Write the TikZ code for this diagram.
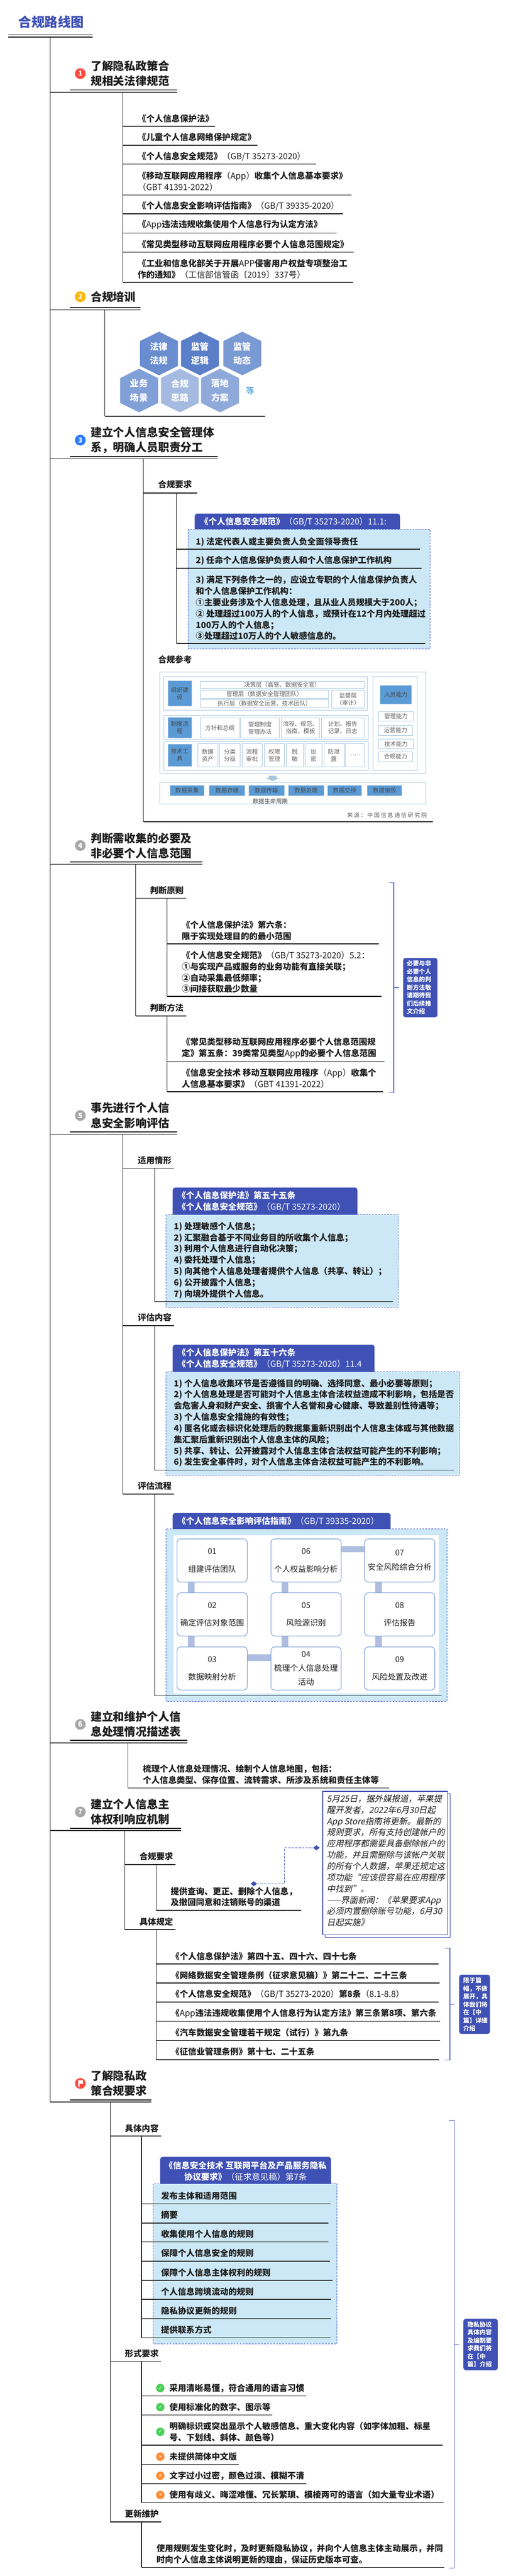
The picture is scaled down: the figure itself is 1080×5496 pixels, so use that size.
\documentclass[tikz,border=0pt]{standalone}
\usepackage{fontspec}
\setmainfont{Noto Sans CJK SC}
\newfontfamily\slantfont[FakeSlant=0.2]{Noto Sans CJK SC}
\newfontfamily\spacedfont[LetterSpace=20]{Noto Sans CJK SC}
\newfontfamily\symbolfont{DejaVu Sans}
\usetikzlibrary{shapes.geometric}

\definecolor{ink}{HTML}{1E1E1E}
\definecolor{indigo}{HTML}{3F51B5}
\definecolor{paleblue}{HTML}{CCE7F6}
\definecolor{dashblue}{HTML}{5567D0}
\definecolor{cellblue}{HTML}{7A9BD8}
\definecolor{barblue}{HTML}{AEBEE0}
\definecolor{imgblue}{HTML}{5B9BD5}
\definecolor{imgline}{HTML}{A9C6DF}
\definecolor{badgered}{HTML}{FF4B3E}
\definecolor{badgeamber}{HTML}{FFB300}
\definecolor{badgeblue}{HTML}{2979FF}
\definecolor{badgegray}{HTML}{A8A8A8}
\definecolor{okgreen}{HTML}{4CD058}
\definecolor{warnorange}{HTML}{FF8B33}
\definecolor{etcblue}{HTML}{1E88D0}
\definecolor{hexone}{HTML}{6A8DD0}
\definecolor{hextwo}{HTML}{5A7FC8}
\definecolor{hexthree}{HTML}{7A9AD4}
\definecolor{hexfour}{HTML}{82A0D8}
\definecolor{hexfive}{HTML}{A4BAE0}
\definecolor{hexsix}{HTML}{90A9DB}

\newcommand{\la}[1]{{\mdseries #1}}
\newcommand{\rowline}[4]{\coordinate (#1a) at (#2,#3); \coordinate (#1b) at (#4,#3); \draw[rowrule] (#1a) -- (#1b);}
\newcommand{\stemline}[4]{\coordinate (#1a) at (#2,#3); \coordinate (#1b) at (#2,#4); \draw[stemrule] (#1a) -- (#1b);}
\newcommand{\sidebrace}[7]{\coordinate (#1a) at (#2,#4); \coordinate (#1b) at (#2,#5); \coordinate (#1m) at (#3,#6); \coordinate (#1t) at (#7,#6); \draw[brace] (#1a) -| (#1m) |- (#1b); \draw[brace] (#1m) -- (#1t);}
\newcommand{\hexcell}[6]{\begin{scope}[shift={(#2,#3)}]
    \fill[fill=#4] (0,0) -- (40.5,20) -- (40.5,73) -- (0,93) -- (-40.5,73) -- (-40.5,20) -- cycle;
    \node[hextext] (#1) at (0,46.5) {#5\\#6};
\end{scope}}

\tikzset{
    rowrule/.style={draw=ink, line width=1.8pt},
    stemrule/.style={draw=ink, line width=1.4pt},
    brace/.style={draw=dashblue, line width=1.4pt},
    title/.style={anchor=west, inner sep=0pt, text=indigo, font=\fontsize{28}{34}\selectfont\bfseries},
    heading/.style={anchor=west, inner sep=0pt, text=ink, align=left, font=\fontsize{24}{32}\selectfont\bfseries},
    topic/.style={anchor=west, inner sep=0pt, text=ink, align=left, font=\fontsize{18}{24}\selectfont\bfseries},
    headtext/.style={topic, text=white},
    tiptext/.style={anchor=west, inner sep=0pt, text=white, align=left, font=\fontsize{13}{17}\selectfont\bfseries},
    badge/.style={circle, minimum size=23pt, inner sep=0pt, text=white, font=\fontsize{15}{15}\selectfont\bfseries},
    markdot/.style={circle, minimum size=18pt, inner sep=0pt, text=white, font=\fontsize{10}{10}\selectfont\symbolfont},
    hextext/.style={align=center, inner sep=0pt, text=white, font=\fontsize{19}{30}\selectfont\bfseries},
    notebox/.style={fill=paleblue, draw=dashblue, line width=1.2pt, dash pattern=on 4pt off 2.5pt},
    stepcell/.style={draw=cellblue, fill=white, line width=1.2pt, rounded corners=8pt, minimum width=150pt, minimum height=92pt, align=center, inner sep=0pt, text=ink, font=\fontsize{17}{24}\selectfont},
    stepbar/.style={draw=barblue, line width=14pt},
    imgbox/.style={draw=imgline, fill=white, line width=0.9pt},
    imgfill/.style={draw=imgline, fill=imgblue, line width=0.9pt},
    imgtext/.style={align=center, inner sep=0pt, text=black!62, font=\fontsize{12.5}{15.4}\selectfont},
    imgdark/.style={imgtext, text=black!72},
    slantnote/.style={anchor=north west, inner sep=0pt, align=left, text=ink, font=\fontsize{18}{24}\selectfont\slantfont},
    joint/.style={diamond, fill=indigo, minimum width=14pt, minimum height=11pt, inner sep=0pt, aspect=1.2},
    linkline/.style={draw=indigo, line width=1.8pt, dash pattern=on 5pt off 2.5pt},
}

\begin{document}
\begin{tikzpicture}[x=1pt, y=-1pt]
    \fill[white] (0,0) rectangle (1080,5496);
    \useasboundingbox (0,0) rectangle (1080,5496);

    \node[title] (main) at (39,47.5) {合规路线图};
    \rowline{maina}{18}{74}{198}
    \rowline{mainb}{18}{79}{198}
    \stemline{trunk}{107.5}{79}{4484.7}

    \node[badge, fill=badgered] (ba) at (171.5,157) {1};
    \node[heading] (heada) at (193.5,157) {了解隐私政策合\\规相关法律规范};
    \rowline{headau}{149}{192}{378}
    \rowline{headal}{107.5}{197}{378}
    \stemline{stema}{262.4}{197}{602.5}
    \node[topic] (laa) at (294,253) {《个人信息保护法》};
    \rowline{laau}{262.4}{269.4}{460}
    \node[topic] (lab) at (294,293) {《儿童个人信息网络保护规定》};
    \rowline{labu}{262.4}{310}{550}
    \node[topic] (lac) at (294,334) {《个人信息安全规范》\la{（GB/T 35273-2020）}};
    \rowline{lacu}{262.4}{350}{675}
    \node[topic] (lad) at (294,387) {《移动互联网应用程序\la{（App）}收集个人信息基本要求》\\\la{（GBT 41391-2022）}};
    \rowline{ladu}{262.4}{416}{751}
    \node[topic] (lae) at (294,440) {《个人信息安全影响评估指南》\la{（GB/T 39335-2020）}};
    \rowline{laeu}{262.4}{456}{732}
    \node[topic] (laf) at (294,480) {《\la{App}违法违规收集使用个人信息行为认定方法》};
    \rowline{lafu}{262.4}{497.5}{719}
    \node[topic] (lag) at (294,521) {《常见类型移动互联网应用程序必要个人信息范围规定》};
    \rowline{lagu}{262.4}{538}{755.5}
    \node[topic] (lah) at (294,574) {《工业和信息化部关于开展\la{APP}侵害用户权益专项整治工\\作的通知》\la{（工信部信管函〔2019〕337号）}};
    \rowline{lahu}{262.4}{602.5}{754}

    \node[badge, fill=badgeamber] (bb) at (171.5,633) {2};
    \node[heading] (headb) at (193.5,633) {合规培训};
    \rowline{headbu}{149}{656}{300}
    \rowline{headbl}{107.5}{661.3}{300}
    \stemline{stemb}{224}{661.3}{888}
    \hexcell{hexa}{339.5}{707.7}{hexone}{法律}{法规}
    \hexcell{hexb}{427}{707.7}{hextwo}{监管}{逻辑}
    \hexcell{hexc}{517.5}{707.7}{hexthree}{监管}{动态}
    \hexcell{hexd}{297}{786.7}{hexfour}{业务}{场景}
    \hexcell{hexe}{384}{786.7}{hexfive}{合规}{思路}
    \hexcell{hexf}{470}{786.7}{hexsix}{落地}{方案}
    \node[topic, text=etcblue, font=\fontsize{18}{24}\selectfont] (etc) at (525,833) {等};
    \rowline{hexu}{224}{888}{566}

    \node[badge, fill=badgeblue] (bc) at (171.5,939) {3};
    \node[heading] (headc) at (193.5,939) {建立个人信息安全管理体\\系，明确人员职责分工};
    \rowline{headcu}{149}{973.7}{465.5}
    \rowline{headcl}{107.5}{978.7}{465.5}
    \stemline{stemc}{306.5}{978.7}{1753}
    \node[topic] (reqc) at (337.5,1034) {合规要求};
    \rowline{reqcu}{306.5}{1051.7}{421.5}
    \filldraw[fill=indigo, draw=indigo, rounded corners=5pt] (416,1096) rectangle (854,1140);
    \filldraw[notebox] (401.5,1129) rectangle (918,1384);
    \stemline{stemd}{376.7}{1051.7}{1373}
    \node[headtext] (hda) at (427,1113) {《个人信息安全规范》\la{（GB/T 35273-2020）11.1:}};
    \node[topic] (ita) at (418,1156) {1) 法定代表人或主要负责人负全面领导责任};
    \rowline{itau}{376.7}{1172}{897}
    \node[topic] (itb) at (418,1196) {2) 任命个人信息保护负责人和个人信息保护工作机构};
    \rowline{itbu}{376.7}{1212.7}{900}
    \node[topic] (itc) at (418,1297) {3) 满足下列条件之一的，应设立专职的个人信息保护负责人\\和个人信息保护工作机构：\\①主要业务涉及个人信息处理，且从业人员规模大于200人；\\② 处理超过100万人的个人信息，或预计在12个月内处理超过\\100万人的个人信息；\\③处理超过10万人的个人敏感信息的。};
    \rowline{itcu}{376.7}{1373}{908}
    \node[topic] (refc) at (337.5,1406.7) {合规参考};

    \draw[imgbox] (341,1433.3) rectangle (910,1650);
    \draw[imgbox] (348.6,1443.3) rectangle (784.7,1515.3);
    \draw[imgfill] (358.5,1452.7) rectangle (409,1506.7) node[midway, imgdark] (orga) {组织建\\设};
    \draw[imgbox] (428,1453.3) rectangle (777.6,1469) node[midway, imgtext] (orgb) {决策层（高管、数据安全官）};
    \draw[imgbox] (428,1472.3) rectangle (701.7,1490) node[midway, imgtext] (orgc) {管理层（数据安全管理团队）};
    \draw[imgbox] (428,1492.3) rectangle (701.7,1509.3) node[midway, imgtext] (orgd) {执行层（数据安全运营、技术团队）};
    \draw[imgbox] (708.8,1472.3) rectangle (777.6,1510.7) node[midway, imgtext] (orge) {监督层\\（审计）};
    \draw[imgbox] (349.8,1525.7) rectangle (786.7,1578.3);
    \draw[imgfill] (358.5,1531) rectangle (409,1574.3) node[midway, imgdark] (flowa) {制度流\\程};
    \draw[imgbox] (428,1531.3) rectangle (511,1574.3) node[midway, imgtext] (flowb) {方针和总纲};
    \draw[imgbox] (514,1531.3) rectangle (596.5,1574.3) node[midway, imgtext] (flowc) {管理制度\\管理办法};
    \draw[imgbox] (601,1531.3) rectangle (682.3,1574.3) node[midway, imgtext] (flowd) {流程、规范、\\指南、模板};
    \draw[imgbox] (686,1531.3) rectangle (777.6,1574.3) node[midway, imgtext] (flowe) {计划、报告\\记录、日志};
    \draw[imgbox] (349.8,1582.3) rectangle (786.7,1644);
    \draw[imgfill] (358.5,1587.3) rectangle (409,1634.7) node[midway, imgdark] (toola) {技术工\\具};
    \draw[imgbox] (422,1586.7) rectangle (465,1635.7) node[midway, imgtext] (toolb) {数据\\资产};
    \draw[imgbox] (469,1586.7) rectangle (512.7,1635.7) node[midway, imgtext] (toolc) {分类\\分级};
    \draw[imgbox] (516.6,1586.7) rectangle (559.7,1635.7) node[midway, imgtext] (toold) {流程\\审批};
    \draw[imgbox] (564,1586.7) rectangle (607.6,1635.7) node[midway, imgtext] (toole) {权限\\管理};
    \draw[imgbox] (611.5,1586.7) rectangle (647.5,1635.7) node[midway, imgtext] (toolf) {脱\\敏};
    \draw[imgbox] (651.5,1586.7) rectangle (687.5,1635.7) node[midway, imgtext] (toolg) {加\\密};
    \draw[imgbox] (691.4,1586.7) rectangle (734.5,1635.7) node[midway, imgtext] (toolh) {防泄\\露};
    \draw[imgbox] (737,1586.7) rectangle (777.6,1635.7) node[midway, imgtext] (tooli) {……};
    \draw[imgbox] (796,1443.3) rectangle (890.7,1644);
    \draw[imgfill] (811.6,1462.3) rectangle (879,1502.3) node[midway, imgdark] (capa) {人员能力};
    \draw[imgbox] (808.5,1518.3) rectangle (882.8,1538.7) node[midway, imgtext] (capb) {管理能力};
    \draw[imgbox] (808.5,1547.7) rectangle (881,1568.7) node[midway, imgtext] (capc) {运营能力};
    \draw[imgbox] (808.5,1576.7) rectangle (882.8,1597.7) node[midway, imgtext] (capd) {技术能力};
    \draw[imgbox] (808.5,1603.7) rectangle (881,1624.7) node[midway, imgtext] (cape) {合规能力};
    \fill[imgline] (574,1655) -- (590,1655) -- (590,1660) -- (597,1660) -- (582,1666) -- (567,1660) -- (574,1660) -- cycle;
    \draw[imgbox] (341,1669.3) rectangle (910,1715);
    \draw[imgfill] (363,1676) rectangle (436,1697.3) node[midway, imgdark] (lifea) {数据采集};
    \draw[imgfill] (447,1676) rectangle (522.7,1697.3) node[midway, imgdark] (lifeb) {数据存储};
    \draw[imgfill] (531,1676) rectangle (606.7,1697.3) node[midway, imgdark] (lifec) {数据传输};
    \draw[imgfill] (615.7,1676) rectangle (691.4,1697.3) node[midway, imgdark] (lifed) {数据处理};
    \draw[imgfill] (699.7,1676) rectangle (772,1697.3) node[midway, imgdark] (lifee) {数据交换};
    \draw[imgfill] (784.4,1676) rectangle (858,1697.3) node[midway, imgdark] (lifef) {数据销毁};
    \node[imgdark] (lifeg) at (577,1709) {数据生命周期};
    \node[imgtext, anchor=west, font=\fontsize{12}{15}\selectfont\spacedfont] (srcc) at (741,1739) {来源：中国信息通信研究院};
    \rowline{refcu}{306.5}{1753}{924}

    \node[badge, fill=badgegray] (bd) at (171.5,1804) {4};
    \node[heading] (headd) at (193.5,1804) {判断需收集的必要及\\非必要个人信息范围};
    \rowline{headdu}{149}{1838.7}{432}
    \rowline{headdl}{107.5}{1843.7}{432}
    \stemline{steme}{290}{1843.7}{2167.3}
    \node[topic] (rulea) at (320,1900) {判断原则};
    \rowline{ruleau}{290}{1916.3}{398}
    \stemline{stemf}{356.7}{1916.3}{2126}
    \node[topic] (ja) at (388,1985) {《个人信息保护法》第六条：\\限于实现处理目的的最小范围};
    \rowline{jau}{356.7}{2014}{809}
    \node[topic] (jb) at (388,2074) {《个人信息安全规范》\la{（GB/T 35273-2020）5.2：}\\①与实现产品或服务的业务功能有直接关联；\\②自动采集最低频率；\\③间接获取最少数量};
    \rowline{jbu}{356.7}{2126}{814.7}
    \node[topic] (ruleb) at (320,2150) {判断方法};
    \rowline{rulebu}{290}{2167.3}{398}
    \stemline{stemg}{356.7}{2167.3}{2329}
    \node[topic] (jc) at (388,2236) {《常见类型移动互联网应用程序必要个人信息范围规\\定》第五条：39类常见类型\la{App}的必要个人信息范围};
    \rowline{jcu}{356.7}{2264.7}{821}
    \node[topic] (jd) at (388,2301) {《信息安全技术 移动互联网应用程序\la{（App）}收集个\\人信息基本要求》\la{（GBT 41391-2022）}};
    \rowline{jdu}{356.7}{2329}{818}
    \sidebrace{bra}{830.6}{841}{1883.7}{2330.7}{2107}{852}
    \filldraw[fill=indigo, draw=indigo, rounded corners=5pt] (861,2044) rectangle (934,2170);
    \node[tiptext] (tipa) at (868.5,2107) {必要与非\\必要个人\\信息的判\\断方法敬\\请期待我\\们后续推\\文介绍};

    \node[badge, fill=badgegray] (be) at (171.5,2380) {5};
    \node[heading] (heade) at (193.5,2380) {事先进行个人信\\息安全影响评估};
    \rowline{headeu}{149}{2415}{378}
    \rowline{headel}{107.5}{2420}{378}
    \stemline{stemh}{262.4}{2420}{3187.3}
    \node[topic] (casea) at (294,2475.7) {适用情形};
    \rowline{caseau}{262.4}{2492.3}{371}
    \filldraw[fill=indigo, draw=indigo, rounded corners=5pt] (369,2534) rectangle (763,2602);
    \filldraw[notebox] (354.7,2591.7) rectangle (850.5,2789);
    \stemline{stemi}{330}{2492.3}{2777}
    \node[headtext] (hdb) at (379,2562.8) {《个人信息保护法》第五十五条\\《个人信息安全规范》\la{（GB/T 35273-2020）}};
    \node[topic] (sa) at (371,2689) {1) 处理敏感个人信息；\\2) 汇聚融合基于不同业务目的所收集个人信息；\\3) 利用个人信息进行自动化决策；\\4) 委托处理个人信息；\\5) 向其他个人信息处理者提供个人信息（共享、转让）；\\6) 公开披露个人信息；\\7) 向境外提供个人信息。};
    \rowline{sau}{330}{2777}{839}
    \node[topic] (caseb) at (294,2811) {评估内容};
    \rowline{casebu}{262.4}{2828}{371}
    \filldraw[fill=indigo, draw=indigo, rounded corners=5pt] (369,2869.3) rectangle (799.6,2937);
    \filldraw[notebox] (354.7,2926.7) rectangle (981.4,3148);
    \stemline{stemj}{330}{2828}{3136.7}
    \node[headtext] (hdc) at (379,2898) {《个人信息保护法》第五十六条\\《个人信息安全规范》\la{（GB/T 35273-2020）11.4}};
    \node[topic] (sb) at (371,3036) {1) 个人信息收集环节是否遵循目的明确、选择同意、最小必要等原则；\\2) 个人信息处理是否可能对个人信息主体合法权益造成不利影响，包括是否\\会危害人身和财产安全、损害个人名誉和身心健康、导致差别性待遇等；\\3) 个人信息安全措施的有效性；\\4) 匿名化或去标识化处理后的数据集重新识别出个人信息主体或与其他数据\\集汇聚后重新识别出个人信息主体的风险；\\5) 共享、转让、公开披露对个人信息主体合法权益可能产生的不利影响；\\6) 发生安全事件时，对个人信息主体合法权益可能产生的不利影响。};
    \rowline{sbu}{330}{3136.7}{969.7}
    \node[topic] (casec) at (294,3170) {评估流程};
    \rowline{casecu}{262.4}{3187.3}{371}
    \filldraw[fill=indigo, draw=indigo, rounded corners=5pt] (369,3228.3) rectangle (834,3272);
    \filldraw[notebox] (354.7,3262) rectangle (954.5,3630);
    \fill[white] (370.5,3276) rectangle (938,3612.7);
    \stemline{stemk}{330}{3187.3}{3618}
    \node[headtext] (hdd) at (379,3245.3) {《个人信息安全影响评估指南》\la{（GB/T 39335-2020）}};
    \rowline{stepu}{330}{3618}{943.5}
    \node[stepcell] (ca) at (453,3329.3) {01\\[14pt]组建评估团队};
    \node[stepcell] (cb) at (453,3444.3) {02\\[14pt]确定评估对象范围};
    \node[stepcell] (cc) at (453,3559.8) {03\\[14pt]数据映射分析};
    \node[stepcell] (cd) at (653.5,3559.8) {04\\[6pt]梳理个人信息处理\\[6pt]活动};
    \node[stepcell] (ce) at (653.5,3444.3) {05\\[14pt]风险源识别};
    \node[stepcell] (cf) at (653.5,3329.3) {06\\[14pt]个人权益影响分析};
    \node[stepcell] (cg) at (853.5,3329.3) {07\\[7pt]安全风险综合分析};
    \node[stepcell] (ch) at (853.5,3444.3) {08\\[14pt]评估报告};
    \node[stepcell] (ci) at (853.5,3559.8) {09\\[14pt]风险处置及改进};
    \draw[stepbar] ([xshift=-45pt]ca.south) -- ([xshift=-45pt]cb.north);
    \draw[stepbar] ([xshift=-45pt]cb.south) -- ([xshift=-45pt]cc.north);
    \draw[stepbar] ([yshift=23.5pt]cc.east) -- ([yshift=23.5pt]cd.west);
    \draw[stepbar] ([xshift=-45pt]cd.north) -- ([xshift=-45pt]ce.south);
    \draw[stepbar] ([xshift=-45pt]ce.north) -- ([xshift=-45pt]cf.south);
    \draw[stepbar] ([yshift=24pt]cf.east) -- ([yshift=24pt]cg.west);
    \draw[stepbar] ([xshift=-45pt]cg.south) -- ([xshift=-45pt]ch.north);
    \draw[stepbar] ([xshift=-45pt]ch.south) -- ([xshift=-45pt]ci.north);

    \node[badge, fill=badgegray] (bf) at (171.5,3679) {6};
    \node[heading] (headf) at (193.5,3679) {建立和维护个人信\\息处理情况描述表};
    \rowline{headfu}{149}{3713.3}{400}
    \rowline{headfl}{107.5}{3718.3}{400}
    \stemline{steml}{273.4}{3718.3}{3814.7}
    \node[topic] (mapa) at (305,3786) {梳理个人信息处理情况、绘制个人信息地图，包括：\\个人信息类型、保存位置、流转需求、所涉及系统和责任主体等};
    \rowline{mapu}{273.4}{3814.7}{830.6}

    \node[badge, fill=badgegray] (bg) at (171.5,3865.7) {7};
    \node[heading] (headg) at (193.5,3865.7) {建立个人信息主\\体权利响应机制};
    \rowline{headgu}{149}{3900.7}{386.4}
    \rowline{headgl}{107.5}{3905.3}{386.4}
    \stemline{stemm}{266.5}{3905.3}{4116.7}
    \node[topic] (lawa) at (297.5,3961) {合规要求};
    \rowline{lawau}{266.5}{3978.3}{375}
    \stemline{stemn}{333.3}{3978.3}{4075.7}
    \node[topic] (rta) at (364.3,4047) {提供查询、更正、删除个人信息，\\及撤回同意和注销账号的渠道};
    \rowline{rtau}{333.3}{4075.7}{643}
    \draw[draw=indigo, fill=white, line width=1.6pt] (694.4,3826.7) rectangle (961.4,4133.3);
    \draw[draw=indigo, fill=white, line width=1.6pt] (689.4,3821.7) rectangle (956,4127.7);
    \node[slantnote] (press) at (697.7,3829) {5月25日，据外媒报道，苹果提\\醒开发者，2022年6月30日起\\App Store指南将更新。最新的\\规则要求，所有支持创建帐户的\\应用程序都需要具备删除帐户的\\功能，并且需删除与该帐户关联\\的所有个人数据，苹果还规定这\\项功能“应该很容易在应用程序\\中找到”。\\——界面新闻：《苹果要求App\\必须内置删除账号功能，6月30\\日起实施》};
    \node[joint] (jl) at (542,4019) {};
    \node[joint] (jr) at (675.6,3942.3) {};
    \coordinate (jm) at (607.4,3980);
    \draw[linkline] (jl) -| (jm) |- (jr);
    \node[topic] (lawb) at (297.5,4100) {具体规定};
    \rowline{lawbu}{266.5}{4116.7}{375}
    \stemline{stemo}{333.3}{4116.7}{4394.3}
    \node[topic] (ga) at (365.5,4173.3) {《个人信息保护法》第四十五、四十六、四十七条};
    \rowline{gau}{333.3}{4190.3}{936}
    \node[topic] (gb) at (365.5,4214) {《网络数据安全管理条例（征求意见稿）》第二十二、二十三条};
    \rowline{gbu}{333.3}{4230.7}{938.7}
    \node[topic] (gc) at (365.5,4255) {《个人信息安全规范》\la{（GB/T 35273-2020）}第8条\la{（8.1-8.8）}};
    \rowline{gcu}{333.3}{4271.7}{936}
    \node[topic] (gd) at (365.5,4295.7) {《\la{App}违法违规收集使用个人信息行为认定方法》第三条第8项、第六条};
    \rowline{gdu}{333.3}{4312.7}{940}
    \node[topic] (ge) at (365.5,4336.7) {《汽车数据安全管理若干规定（试行）》第九条};
    \rowline{geu}{333.3}{4353.3}{940}
    \node[topic] (gf) at (365.5,4377.3) {《征信业管理条例》第十七、二十五条};
    \rowline{gfu}{333.3}{4394.3}{938}
    \sidebrace{brb}{949.7}{960.7}{4156.7}{4395.3}{4276.3}{971}
    \filldraw[fill=indigo, draw=indigo, rounded corners=5pt] (980.7,4213.3) rectangle (1046,4339.3);
    \node[tiptext] (tipb) at (989,4276.7) {限于篇\\幅，不做\\展开，具\\体我们将\\在【中\\篇】详细\\介绍};

    \node[badge, fill=badgered] (bh) at (171.5,4445) {};
    \fill[white] (167,4438) -- (177,4438) -- (177,4446) -- (170,4446) -- (170,4452) -- (167,4452) -- cycle;
    \node[heading] (headh) at (193.5,4444.5) {了解隐私政\\策合规要求};
    \rowline{headhu}{149}{4480}{323}
    \rowline{headhl}{107.5}{4484.7}{323}
    \stemline{stemp}{235.5}{4484.7}{5380.7}
    \node[topic] (pola) at (266.5,4540.7) {具体内容};
    \rowline{polau}{235.5}{4557.3}{343.7}
    \filldraw[fill=indigo, draw=indigo, rounded corners=5pt] (342.3,4602) rectangle (706.6,4669);
    \filldraw[notebox] (327,4659) rectangle (719.7,5000.7);
    \stemline{stemq}{302.3}{4557.3}{4987.7}
    \node[headtext, anchor=center, align=center] (hde) at (524.5,4632) {《信息安全技术 互联网平台及产品服务隐私\\协议要求》\la{（征求意见稿）第7条}};
    \node[topic] (pa) at (343.7,4685) {发布主体和适用范围};
    \rowline{pau}{302.3}{4701.7}{706}
    \node[topic] (pb) at (343.7,4725.7) {摘要};
    \rowline{pbu}{302.3}{4742.7}{701.8}
    \node[topic] (pc) at (343.7,4766.7) {收集使用个人信息的规则};
    \rowline{pcu}{302.3}{4783.3}{701.8}
    \node[topic] (pd) at (343.7,4807.3) {保障个人信息安全的规则};
    \rowline{pdu}{302.3}{4824}{705}
    \node[topic] (pe) at (343.7,4848.3) {保障个人信息主体权利的规则};
    \rowline{peu}{302.3}{4865.3}{710}
    \node[topic] (pf) at (343.7,4889) {个人信息跨境流动的规则};
    \rowline{pfu}{302.3}{4906}{706.6}
    \node[topic] (pg) at (343.7,4929.7) {隐私协议更新的规则};
    \rowline{pgu}{302.3}{4946.7}{706.6}
    \node[topic] (ph) at (343.7,4970.7) {提供联系方式};
    \rowline{phu}{302.3}{4987.7}{706}

    \node[topic] (polb) at (266.5,5021.7) {形式要求};
    \rowline{polbu}{235.5}{5038.3}{343.7}
    \stemline{stemr}{302.3}{5038.3}{5339.3}
    \node[markdot, fill=okgreen] (ma) at (342.3,5095) {✓};
    \node[topic] (fa) at (361.6,5095) {采用清晰易懂，符合通用的语言习惯};
    \rowline{fau}{302.3}{5111.7}{653.6}
    \node[markdot, fill=okgreen] (mb) at (342.3,5135.7) {✓};
    \node[topic] (fb) at (361.6,5135.7) {使用标准化的数字、图示等};
    \rowline{fbu}{302.3}{5152.3}{582}
    \node[markdot, fill=okgreen] (mc) at (342.3,5188.3) {✓};
    \node[topic] (fc) at (361.6,5188.7) {明确标识或突出显示个人敏感信息、重大变化内容（如字体加粗、标星\\号、下划线、斜体、颜色等）};
    \rowline{fcu}{302.3}{5217}{945.6}
    \node[markdot, fill=warnorange] (md) at (342.3,5241.3) {✕};
    \node[topic] (fd) at (361.6,5241.3) {未提供简体中文版};
    \rowline{fdu}{302.3}{5258}{510}
    \node[markdot, fill=warnorange] (me) at (342.3,5282) {✕};
    \node[topic] (fe) at (361.6,5282) {文字过小过密，颜色过淡、模糊不清};
    \rowline{feu}{302.3}{5299}{653.6}
    \node[markdot, fill=warnorange] (mf) at (342.3,5323) {✕};
    \node[topic] (ff) at (361.6,5323) {使用有歧义、晦涩难懂、冗长繁琐、模棱两可的语言（如大量专业术语）};
    \rowline{ffu}{302.3}{5339.3}{947.7}

    \node[topic] (polc) at (266.5,5363.3) {更新维护};
    \rowline{polcu}{235.5}{5380.7}{343.7}
    \stemline{stems}{302.3}{5380.7}{5477.7}
    \node[topic] (upd) at (334,5449.5) {使用规则发生变化时，及时更新隐私协议，并向个人信息主体主动展示，并同\\时向个人信息主体说明更新的理由，保证历史版本可查。};
    \rowline{updu}{302.3}{5477.7}{949}
    \sidebrace{brc}{958.7}{969.7}{4524}{5479}{5001.7}{980}
    \filldraw[fill=indigo, draw=indigo, rounded corners=5pt] (989.7,4947.3) rectangle (1062.7,5056.7);
    \node[tiptext] (tipc) at (998,5002) {隐私协议\\具体内容\\及编制要\\求我们将\\在【中\\篇】介绍};
\end{tikzpicture}
\end{document}
